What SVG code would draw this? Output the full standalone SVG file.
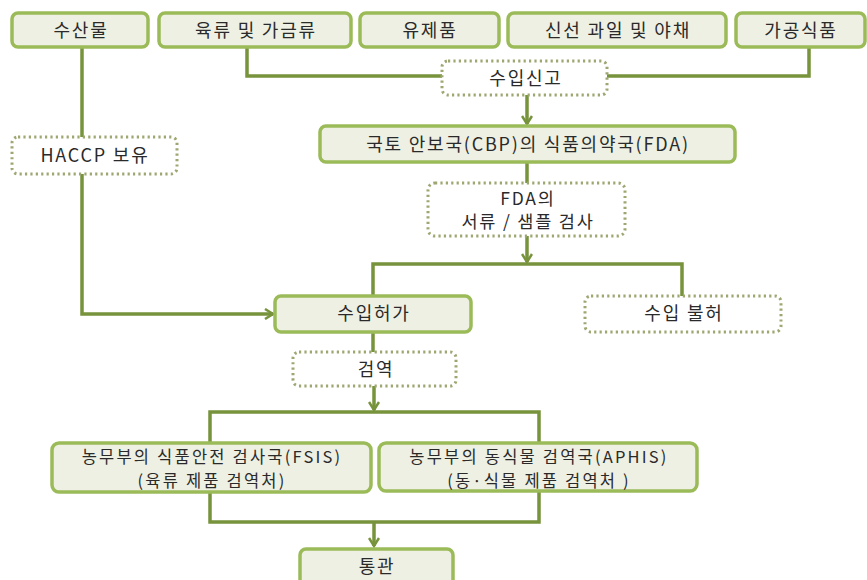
<svg xmlns="http://www.w3.org/2000/svg" width="867" height="580" viewBox="0 0 867 580">
<defs>
<style>
.box{fill:#eef0e3;stroke:#9bbb59;stroke-width:3.5}
.dot{fill:#fff;stroke:#9da772;stroke-width:3;stroke-dasharray:2.2 3.2}
.ln{fill:none;stroke:#77933c;stroke-width:3.5}
text{font-family:"Noto Sans CJK KR","Noto Sans",sans-serif;font-size:18px;letter-spacing:1.8px;fill:#2a2a2a;text-anchor:middle}
.two{font-size:17.5px}
.two2{font-size:16.5px;letter-spacing:2.2px}
</style>
<marker id="ah" viewBox="0 0 12 12" refX="10" refY="6" markerWidth="12" markerHeight="12" markerUnits="userSpaceOnUse" orient="auto">
<path d="M2,1 L10,6 L2,11" fill="none" stroke="#77933c" stroke-width="2.5"/>
</marker>
</defs>
<rect width="867" height="580" fill="#fff"/>
<g id="connectors">
<path class="ln" d="M247,47 V76 H443"/>
<path class="ln" d="M809,47 V76 H607"/>
<path class="ln" d="M527,95 V124" marker-end="url(#ah)"/>
<path class="ln" d="M527,162 V183"/>
<path class="ln" d="M527,236 V262" marker-end="url(#ah)"/>
<path class="ln" d="M373,296 V264 H682 V296"/>
<path class="ln" d="M82,47 V137"/>
<path class="ln" d="M82,174 V314 H273" marker-end="url(#ah)"/>
<path class="ln" d="M373,332 V352"/>
<path class="ln" d="M374,386 V410" marker-end="url(#ah)"/>
<path class="ln" d="M210,443 V412 H539 V443"/>
<path class="ln" d="M210,492 V522 H539 V491"/>
<path class="ln" d="M374,522 V546" marker-end="url(#ah)"/>
</g>
<g id="n1"><rect class="box" x="12" y="13" width="136" height="34" rx="6"/><text x="81" y="37">수산물</text></g>
<g id="n2"><rect class="box" x="159" y="13" width="192" height="34" rx="6"/><text x="256" y="37">육류 및 가금류</text></g>
<g id="n3"><rect class="box" x="360" y="13" width="139" height="34" rx="6"/><text x="430" y="37">유제품</text></g>
<g id="n4"><rect class="box" x="508" y="13" width="218" height="34" rx="6"/><text x="618" y="37">신선 과일 및 야채</text></g>
<g id="n5"><rect class="box" x="736" y="13" width="129" height="34" rx="6"/><text x="801" y="37">가공식품</text></g>
<g id="n6"><rect class="dot" x="442" y="61" width="165" height="34" rx="6"/><text x="526" y="85">수입신고</text></g>
<g id="n7"><rect class="box" x="320" y="126" width="415" height="36" rx="6"/><text x="528" y="151">국토 안보국(CBP)의  식품의약국(FDA)</text></g>
<g id="n8"><rect class="dot" x="12" y="137" width="165" height="37" rx="6"/><text x="95" y="162">HACCP 보유</text></g>
<g id="n9"><rect class="dot" x="428" y="183" width="197" height="53" rx="7"/><text class="two" x="528"><tspan x="528" y="205">FDA의</tspan><tspan x="528" y="228">서류 / 샘플 검사</tspan></text></g>
<g id="n10"><rect class="box" x="275" y="296" width="196" height="36" rx="6"/><text x="374" y="320">수입허가</text></g>
<g id="n11"><rect class="dot" x="585" y="296" width="196" height="36" rx="6"/><text x="684" y="320">수입 불허</text></g>
<g id="n12"><rect class="dot" x="293" y="352" width="163" height="34" rx="6"/><text x="376" y="376">검역</text></g>
<g id="n13"><rect class="box" x="52" y="443" width="319" height="49" rx="7"/><text class="two2" x="212"><tspan x="212" y="463">농무부의 식품안전 검사국(FSIS)</tspan><tspan x="212" y="487">(육류 제품 검역처)</tspan></text></g>
<g id="n14"><rect class="box" x="379" y="443" width="318" height="48" rx="7"/><text class="two2" x="539"><tspan x="539" y="463">농무부의 동식물 검역국(APHIS)</tspan><tspan x="539" y="487">(동·식물 제품 검역처 )</tspan></text></g>
<g id="n15"><rect class="box" x="300" y="549" width="153" height="40" rx="6"/><text x="377" y="573">통관</text></g>
</svg>
